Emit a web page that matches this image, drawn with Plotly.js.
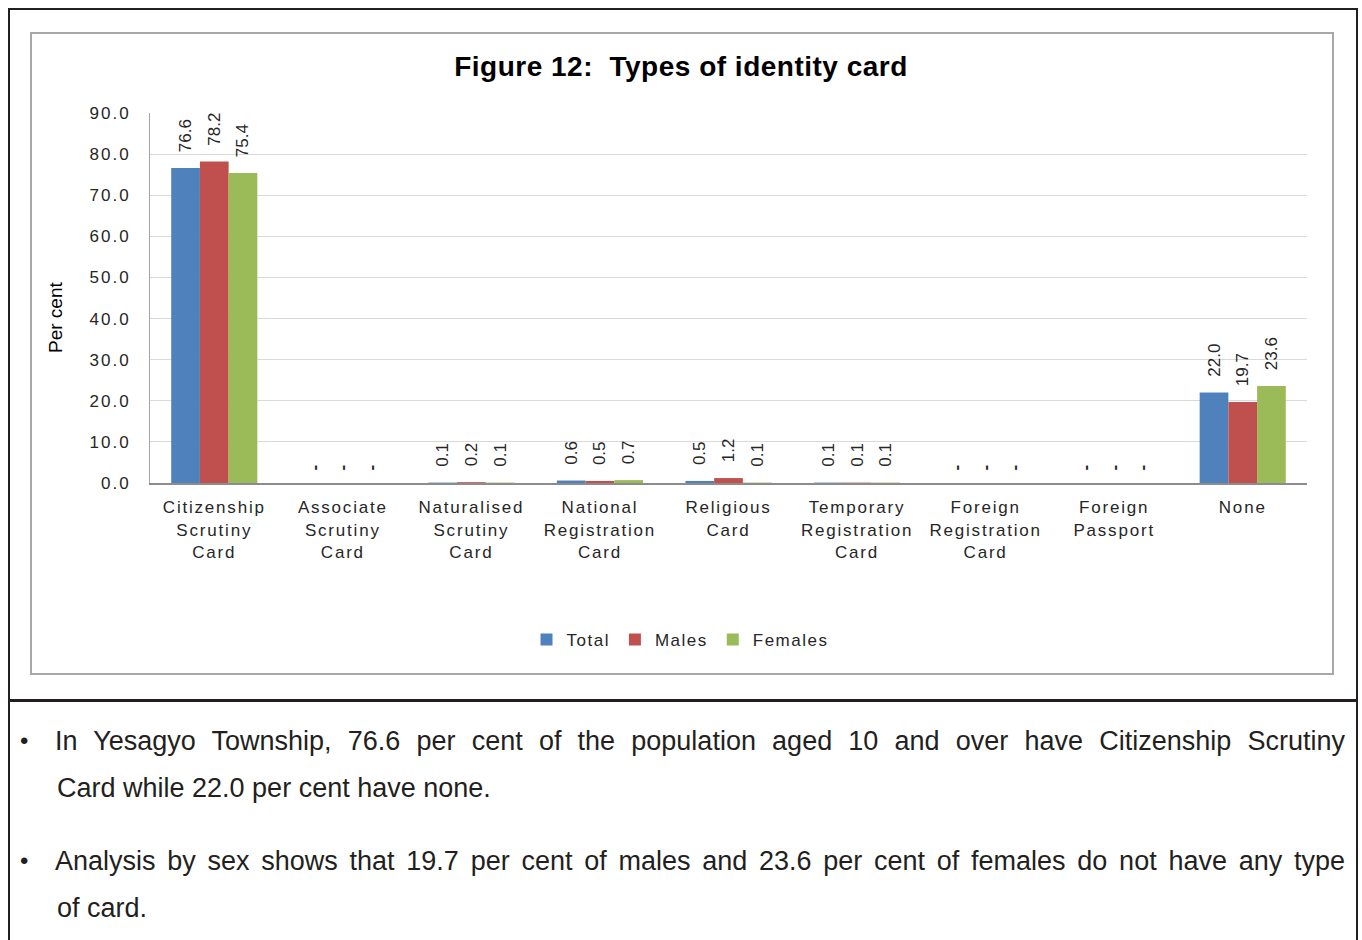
<!DOCTYPE html>
<html>
<head>
<meta charset="utf-8">
<script src="https://cdn.plot.ly/plotly-3.0.1.min.js"></script>
<style>
  html, body { margin: 0; padding: 0; background: #fff; }
  #page { position: relative; width: 1362px; height: 940px; overflow: hidden; font-family: "Liberation Sans", Arial, sans-serif; }
  #frame { position: absolute; left: 8px; top: 8px; width: 1346px; height: 950px;
           border-left: 2px solid #231f20; border-right: 2px solid #231f20; border-top: 2px solid #231f20; }
  #divider { position: absolute; left: 8px; top: 699px; width: 1350px; height: 3px; background: #231f20; }
  #chartbox { position: absolute; left: 30px; top: 32px; width: 1300px; height: 639px; border: 2px solid #a8a8a8; }
  #chart { position: absolute; left: 0; top: 0; width: 1362px; height: 700px; }
  #chart .xtick text { letter-spacing: 1.8px; }
  #chart .ytick text { letter-spacing: 2px; }
  text.legendtext { letter-spacing: 1.5px; }
  #chart .gtitle { letter-spacing: 0.5px; }
  .para { position: absolute; left: 55px; width: 1290px; font-size: 27px; color: #231f20;
          white-space: nowrap; line-height: 34px; }
  .just { text-align: justify; text-align-last: justify; }
  .bullet { position: absolute; left: 20px; font-size: 24px; color: #231f20; line-height: 34px; }
</style>
</head>
<body>
<div id="page">
  <div id="frame"></div>
  <div id="divider"></div>
  <div id="chartbox"></div>
  <div id="chart"></div>

  <div class="bullet" style="top:724px">•</div>
  <div class="para just" style="top:724px">In Yesagyo Township, 76.6 per cent of the population aged 10 and over have Citizenship Scrutiny</div>
  <div class="para" style="top:771px; left:57px">Card while 22.0 per cent have none.</div>

  <div class="bullet" style="top:844px">•</div>
  <div class="para just" style="top:844px">Analysis by sex shows that 19.7 per cent of males and 23.6 per cent of females do not have any type</div>
  <div class="para" style="top:891px; left:57px">of card.</div>
</div>

<script>
// Identity card types, per cent of population aged 10 and over
const categories = [
  "Citizenship<br>Scrutiny<br>Card",
  "Associate<br>Scrutiny<br>Card",
  "Naturalised<br>Scrutiny<br>Card",
  "National<br>Registration<br>Card",
  "Religious<br>Card",
  "Temporary<br>Registration<br>Card",
  "Foreign<br>Registration<br>Card",
  "Foreign<br>Passport",
  "None"
];
// null = no value reported (labelled "-")
const totalValues   = [76.6, null, 0.1, 0.6, 0.5, 0.1, null, null, 22.0];
const malesValues   = [78.2, null, 0.2, 0.5, 1.2, 0.1, null, null, 19.7];
const femalesValues = [75.4, null, 0.1, 0.7, 0.1, 0.1, null, null, 23.6];

const seriesNames  = ["Total", "Males", "Females"];
const seriesColors = ["#4F81BD", "#C0504D", "#9BBB59"];
const yTicks = [0, 10, 20, 30, 40, 50, 60, 70, 80, 90];

// rotated labels read bottom-to-top, so leading spaces lift them off the bars
const LABEL_PAD = "\u00a0\u00a0\u2009";
const NO_VALUE = "\u00a0\u00a0<b>-</b>";

function makeTrace(name, values, color) {
  return {
    type: "bar",
    name: name,
    x: categories,
    y: values.map(v => (v === null ? 0 : v)),
    text: values.map(v => (v === null ? NO_VALUE : LABEL_PAD + v.toFixed(1))),
    textposition: "outside",
    textangle: -90,
    constraintext: "none",
    textfont: { family: "Liberation Sans, Arial, sans-serif", size: 17, color: "#262626" },
    cliponaxis: false,
    marker: { color: color, line: { width: 0 } },
    hoverinfo: "x+y"
  };
}

const data = [
  makeTrace(seriesNames[0], totalValues, seriesColors[0]),
  makeTrace(seriesNames[1], malesValues, seriesColors[1]),
  makeTrace(seriesNames[2], femalesValues, seriesColors[2])
];

const layout = {
  width: 1362,
  height: 700,
  margin: { l: 150, r: 55, t: 113, b: 217, pad: 0 },
  paper_bgcolor: "rgba(0,0,0,0)",
  plot_bgcolor: "rgba(0,0,0,0)",
  font: { family: "Liberation Sans, Arial, sans-serif", color: "#262626" },
  barmode: "group",
  bargap: 0.33,
  bargroupgap: 0,
  title: {
    text: "<b>Figure 12:  Types of identity card</b>",
    font: { family: "Liberation Sans, Arial, sans-serif", size: 28, color: "#000" },
    x: 0.5, xref: "container", xanchor: "center",
    y: 1 - 66 / 700, yanchor: "middle"
  },
  xaxis: {
    type: "category",
    showgrid: false,
    zeroline: false,
    showline: true,
    linecolor: "#8c8c8c",
    linewidth: 2,
    ticks: "",
    tickangle: 0,
    ticklabelstandoff: 8,
    tickfont: { size: 17, color: "#262626" },
    automargin: false
  },
  yaxis: {
    range: [0, 90],
    tickvals: yTicks,
    ticktext: yTicks.map(v => v.toFixed(1)),
    showgrid: true,
    gridcolor: "#d9d9d9",
    gridwidth: 1,
    zeroline: false,
    showline: true,
    linecolor: "#a6a6a6",
    linewidth: 1,
    ticks: "",
    ticklabelstandoff: 15,
    tickfont: { size: 17, color: "#262626" },
    automargin: false
  },
  annotations: [{
    text: "Per cent",
    textangle: -90,
    xref: "paper", yref: "paper",
    x: (55 - 150) / 1157, y: (483 - 318) / 370,
    xanchor: "center", yanchor: "middle",
    showarrow: false,
    font: { size: 19, color: "#000" }
  }],
  showlegend: true,
  legend: {
    orientation: "h",
    x: (680 - 150) / 1157, xanchor: "center",
    y: (483 - 640) / 370, yanchor: "middle",
    font: { size: 17, color: "#262626" },
    itemwidth: 30,
    traceorder: "normal"
  }
};

Plotly.newPlot("chart", data, layout, { displayModeBar: false, staticPlot: true });
</script>
</body>
</html>
